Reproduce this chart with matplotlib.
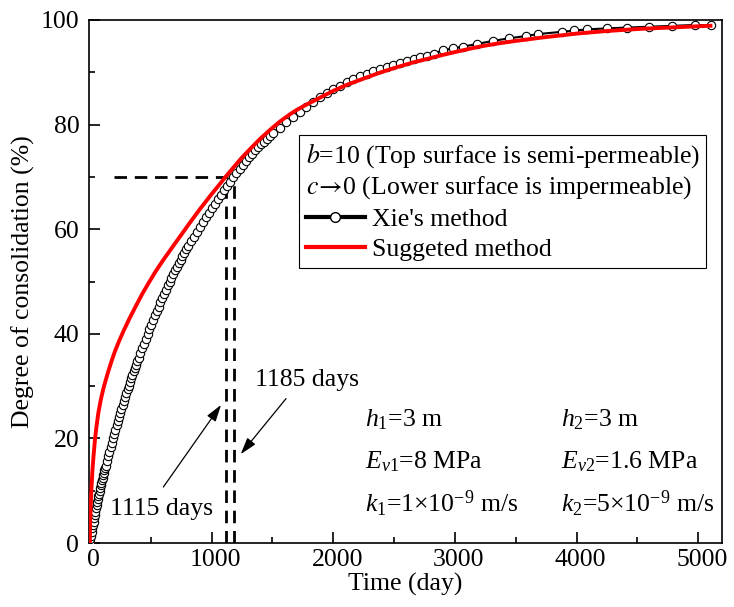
import matplotlib
matplotlib.use("Agg")
import matplotlib.pyplot as plt
import matplotlib.transforms as mtransforms
from matplotlib.lines import Line2D
from matplotlib.ticker import MultipleLocator

plt.rcParams['font.family'] = ['Liberation Serif', 'DejaVu Serif']
plt.rcParams['font.size'] = 18.5
plt.rcParams['mathtext.fontset'] = 'custom'
plt.rcParams['mathtext.rm'] = 'Liberation Serif'
plt.rcParams['mathtext.it'] = 'Liberation Serif:italic'
plt.rcParams['mathtext.bf'] = 'Liberation Serif:bold'

# Xie's method (open circles), time in days, degree of consolidation in %
xie_t = [0, 5, 10, 15, 20, 25, 30, 35, 40, 45, 50, 55, 60, 65, 70, 75, 80, 85, 90, 95,
         100, 105, 110, 115, 120, 125,
         130, 140, 150, 160, 170, 180, 190, 200, 210, 220, 230, 240, 250, 260, 270,
         280, 290, 300, 310, 320, 330, 340, 350, 360, 370, 380, 390, 400,
         415, 430, 445, 460, 475, 490, 505, 520, 535, 550, 565, 580, 595, 610, 625,
         640, 655, 670, 685, 700, 715, 730, 745, 760, 775, 790, 805,
         830, 855, 880, 905, 930, 955, 980, 1005, 1030, 1055, 1080, 1105, 1130, 1155, 1180,
         1205, 1230, 1255, 1280, 1305, 1330, 1355, 1380, 1405, 1430, 1455, 1480, 1505,
         1560, 1615, 1670, 1725, 1780, 1835, 1890, 1945, 2000, 2055, 2110, 2165, 2220,
         2275, 2330, 2385, 2440, 2495, 2550, 2605, 2660, 2715, 2770, 2825,
         2905, 2987, 3064, 3179, 3311, 3447, 3584, 3680, 3878, 3979, 4083, 4247, 4417,
         4597, 4781, 4973, 5104]
xie_u = [0.0, 0.71, 1.41, 2.10, 2.78, 3.45, 4.10, 4.75, 5.38, 6.00, 6.60, 7.20, 7.78, 8.35,
         8.91, 9.46, 10.00, 10.53, 11.04, 11.54, 12.03, 12.51, 12.97, 13.43, 13.87, 14.30,
         14.75, 15.65, 16.55, 17.45, 18.35, 19.20, 20.05, 20.90, 21.70, 22.50, 23.30, 24.10,
         24.90, 25.70, 26.45, 27.20, 27.95, 28.70, 29.40, 30.10, 30.80, 31.50, 32.15, 32.80,
         33.45, 34.10, 34.75, 35.40,
         36.31, 37.22, 38.12, 39.03, 39.94, 40.85, 41.75, 42.66, 43.57, 44.38, 45.19, 46.00,
         46.81, 47.62, 48.43, 49.24, 49.96, 50.68, 51.40, 52.12, 52.84, 53.50, 54.16, 54.82,
         55.48, 56.14, 56.78,
         57.69, 58.60, 59.51, 60.42, 61.33, 62.24, 63.15, 64.00, 64.85, 65.70, 66.55, 67.40,
         68.25, 69.10, 69.95,
         70.75, 71.55, 72.30, 73.05, 73.75, 74.45, 75.10, 75.70, 76.20, 76.75, 77.30, 77.80, 78.30,
         79.40, 80.45, 81.50, 82.50, 83.45, 84.35, 85.20, 86.00, 86.75, 87.45, 88.10, 88.70,
         89.25, 89.75, 90.20, 90.65, 91.05, 91.45, 91.80, 92.15, 92.50, 92.85, 93.20, 93.55,
         94.20, 94.60, 94.90, 95.40, 96.00, 96.50, 96.95, 97.30, 97.75, 98.00, 98.20, 98.40,
         98.55, 98.70, 98.85, 99.05, 99.00]

# Suggested method (red line)
sug_t = [0, 2, 5, 10, 15, 21, 30, 43, 55, 70, 90, 110, 125, 150, 180, 207, 240, 280, 325,
         380, 430, 480, 540, 600, 670, 750, 830, 910, 990, 1060, 1115, 1180, 1250, 1320,
         1400, 1481, 1563, 1640, 1700, 1770, 1837, 1920, 2000, 2111, 2250, 2385, 2520,
         2658, 2780, 2878, 3015, 3200, 3350, 3500, 3699, 3850, 4000, 4250, 4520, 4800, 5100]
sug_u = [0.0, 3.5, 6.0, 8.8, 11.2, 13.8, 16.6, 20.0, 22.4, 24.9, 27.4, 29.4, 30.7, 32.7,
         34.9, 36.7, 38.6, 40.7, 42.9, 45.4, 47.6, 49.6, 51.9, 54.0, 56.3, 58.9, 61.5, 64.0,
         66.4, 68.4, 70.0, 71.8, 73.7, 75.4, 77.3, 79.0, 80.6, 81.9, 82.8, 83.7, 84.5, 85.5,
         86.45, 87.6, 88.8, 89.95, 90.95, 91.9, 92.6, 93.2, 93.95, 94.9, 95.5, 96.0, 96.6,
         97.0, 97.4, 97.9, 98.3, 98.6, 98.9]

# 70 % consolidation reference
u_target = 70
t_sug70 = 1115
t_xie70 = 1185
hline_start = 195

x_ticks = [0, 1000, 2000, 3000, 4000, 5000]
y_ticks = [0, 20, 40, 60, 80, 100]

legend_title = ('$b$=10 (Top surface is semi-permeable)\n'
                r'$c\!\rightarrow\!$0 (Lower surface is impermeable)')
params_left = [r'$h_{\mathit{1}}$=3 m', r'$E_{\mathit{v1}}$=8 MPa',
               r'$k_{\mathit{1}}$=1$\times$10$^{\mathrm{-9}}$ m/s']
params_right = [r'$h_{\mathit{2}}$=3 m', r'$E_{\mathit{v2}}$=1.6 MPa',
                r'$k_{\mathit{2}}$=5$\times$10$^{\mathrm{-9}}$ m/s']
params_rows = [22.2, 14.2, 5.9]


def main():
    fig = plt.figure(figsize=(7.34, 6.07), dpi=100)
    ax = fig.add_axes([89 / 734, 64 / 607, 633 / 734, 523 / 607])

    ax.plot(xie_t, xie_u, color='black', lw=1.5, marker='o', ms=6,
            mfc='white', mec='black', mew=0.8, zorder=3)
    ax.plot(sug_t, sug_u, color='red', lw=2.8, zorder=4)

    dash = (0, (4.5, 2.8))
    ax.hlines(u_target, hline_start, t_xie70, colors='black', lw=2,
              linestyles=[dash], zorder=2)
    ax.vlines([t_sug70, t_xie70], 0, u_target, colors='black', lw=2,
              linestyles=[dash], zorder=2)

    # arrows + labels
    arrow = dict(arrowstyle='-|>,head_length=0.55,head_width=0.17',
                 color='black', lw=0.9, shrinkA=0, shrinkB=0)
    ax.annotate('', xy=(1078, 26.4), xytext=(604, 10.7), arrowprops=arrow)
    ax.annotate('', xy=(1240, 17.0), xytext=(1612, 27.6), arrowprops=arrow)
    ax.text(167, 5.3, '%d days' % t_sug70, ha='left', va='baseline')
    ax.text(1358, 30.0, '%d days' % t_xie70, ha='left', va='baseline')

    for s, y in zip(params_left, params_rows):
        ax.text(2261, y, s, ha='left', va='baseline')
    for s, y in zip(params_right, params_rows):
        ax.text(3870, y, s, ha='left', va='baseline')

    ax.set_xlim(-7, 5195)
    ax.set_ylim(0, 100)
    ax.set_xticks(x_ticks)
    ax.set_yticks(y_ticks)
    ax.xaxis.set_minor_locator(MultipleLocator(500))
    ax.yaxis.set_minor_locator(MultipleLocator(10))
    ax.tick_params(which='both', direction='in', top=False, right=False, width=1.2)
    ax.tick_params(which='major', length=8)
    ax.tick_params(which='minor', length=4.5)
    ax.tick_params(axis='x', pad=4)
    ax.tick_params(axis='y', pad=7)
    for sp in ax.spines.values():
        sp.set_linewidth(1.2)

    shift = mtransforms.ScaledTranslation(4 / 100, 0, fig.dpi_scale_trans)
    for lbl in ax.get_xticklabels():
        lbl.set_transform(lbl.get_transform() + shift)

    ax.set_xlabel('Time (day)', labelpad=2)
    ax.set_ylabel('Degree of consolidation (%)', labelpad=4)

    handles = [Line2D([], [], color='black', lw=3, marker='o', ms=7,
                      mfc='white', mec='black', mew=1),
               Line2D([], [], color='red', lw=3)]
    leg = ax.legend(handles, ["Xie's method", "Suggeted method"],
                    title=legend_title, title_fontsize=18.5, fontsize=18.5,
                    loc='upper left', bbox_to_anchor=(0.332, 0.780),
                    borderaxespad=0, fancybox=False, edgecolor='black',
                    framealpha=1, handlelength=2.3, handletextpad=0.3,
                    labelspacing=0.28, borderpad=0.25, alignment='left')
    leg.get_frame().set_linewidth(0.8)
    leg.get_title().set_math_fontfamily('stix')

    fig.savefig('out.png', dpi=100)


if __name__ == "__main__":
    main()
